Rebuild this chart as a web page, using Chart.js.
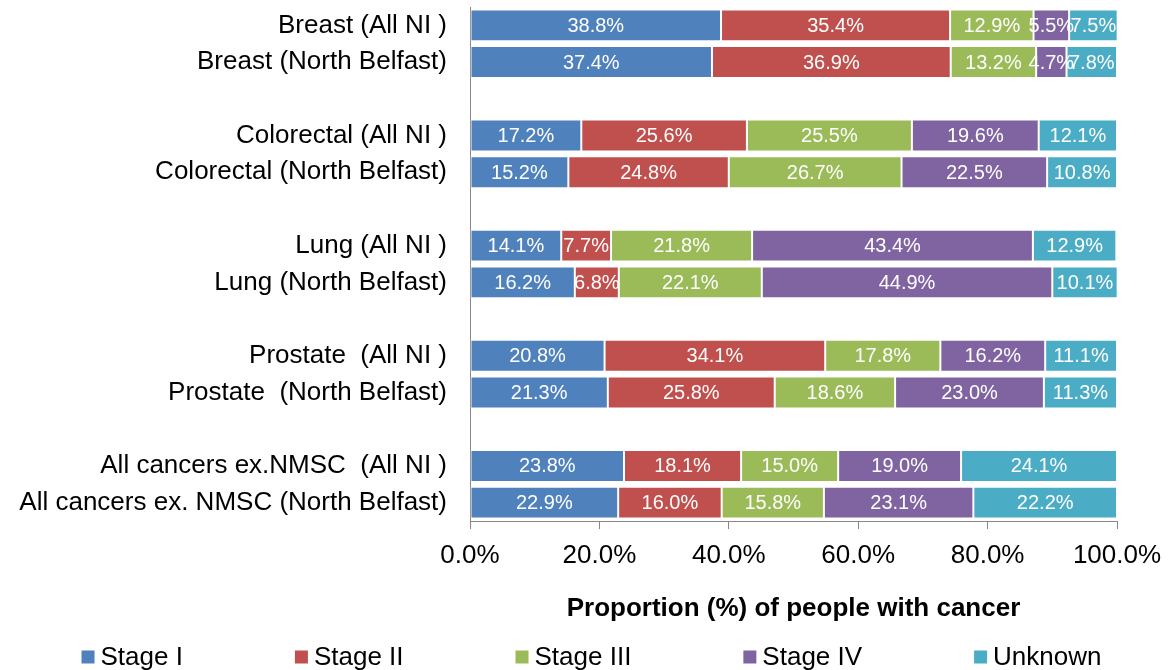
<!DOCTYPE html>
<html><head><meta charset="utf-8">
<script src="https://cdn.jsdelivr.net/npm/chart.js@4.4.0/dist/chart.umd.min.js"></script>
<style>html,body{margin:0;padding:0;background:#fff}#wrap{width:1169px;height:670px;position:relative}</style>
</head><body><div id="wrap"><canvas id="c"></canvas></div>
<script>
const categories = ['Breast (All NI )','Breast (North Belfast)','','Colorectal (All NI )','Colorectal (North Belfast)','','Lung (All NI )','Lung (North Belfast)','','Prostate  (All NI )','Prostate  (North Belfast)','','All cancers ex.NMSC  (All NI )','All cancers ex. NMSC (North Belfast)'];
const stageI   = [38.8,37.4,null,17.2,15.2,null,14.1,16.2,null,20.8,21.3,null,23.8,22.9];
const stageII  = [35.4,36.9,null,25.6,24.8,null,7.7,6.8,null,34.1,25.8,null,18.1,16.0];
const stageIII = [12.9,13.2,null,25.5,26.7,null,21.8,22.1,null,17.8,18.6,null,15.0,15.8];
const stageIV  = [5.5,4.7,null,19.6,22.5,null,43.4,44.9,null,16.2,23.0,null,19.0,23.1];
const unknown  = [7.5,7.8,null,12.1,10.8,null,12.9,10.1,null,11.1,11.3,null,24.1,22.2];
const seriesNames = ['Stage I','Stage II','Stage III','Stage IV','Unknown'];
const seriesColors = ['#4F81BD','#C0504D','#9BBB59','#8064A2','#4BACC6'];
const xTicks = [0,20,40,60,80,100];
const xTitle = 'Proportion (%) of people with cancer';

const FONT = '"Liberation Sans", Arial, sans-serif';
const seriesData = [stageI, stageII, stageIII, stageIV, unknown];

const dataLabels = {
  id: 'dataLabels',
  afterDatasetsDraw(chart) {
    const ctx = chart.ctx;
    ctx.save();
    ctx.font = '20px ' + FONT;
    ctx.fillStyle = '#fff';
    ctx.textAlign = 'center';
    ctx.textBaseline = 'middle';
    chart.data.datasets.forEach((ds, i) => {
      const meta = chart.getDatasetMeta(i);
      meta.data.forEach((el, j) => {
        const v = ds.data[j];
        if (v == null) return;
        const p = el.getProps(['x','y','base'], true);
        ctx.fillText(v.toFixed(1) + '%', (p.x + p.base) / 2, p.y + 1);
      });
    });
    ctx.restore();
  }
};

const customLegend = {
  id: 'customLegend',
  afterDraw(chart) {
    const ctx = chart.ctx;
    ctx.save();
    ctx.font = '26px ' + FONT;
    ctx.textBaseline = 'middle';
    ctx.textAlign = 'left';
    const box = 13, gapText = 6, gap = 112;
    const items = chart.data.datasets.map(d => ({t: d.label, c: d.backgroundColor, w: box + gapText + ctx.measureText(d.label).width}));
    const total = items.reduce((a, b) => a + b.w, 0) + gap * (items.length - 1);
    let x = chart.width / 2 + 7 - total / 2;
    const y = 657;
    items.forEach(it => {
      ctx.fillStyle = it.c;
      ctx.fillRect(x, y - 6.5, box, box);
      ctx.fillStyle = '#000';
      ctx.fillText(it.t, x + box + gapText, y + 1);
      x += it.w + gap;
    });
    ctx.restore();
  }
};

new Chart(document.getElementById('c'), {
  type: 'bar',
  data: {
    labels: categories,
    datasets: seriesNames.map((n, i) => ({
      label: n,
      data: seriesData[i],
      backgroundColor: seriesColors[i],
      borderColor: 'rgba(255,255,255,0.55)',
      borderWidth: 1,
      borderSkipped: false,
      barPercentage: 0.87,
      categoryPercentage: 1.0
    }))
  },
  options: {
    indexAxis: 'y',
    responsive: true,
    maintainAspectRatio: false,
    animation: false,
    layout: {padding: {left: 10, right: 52, top: 7, bottom: 45}},
    plugins: {legend: {display: false}, tooltip: {enabled: false}},
    scales: {
      x: {
        stacked: true,
        min: 0, max: 100,
        afterBuildTicks: s => { s.ticks = xTicks.map(v => ({value: v})); },
        afterFit: s => { s.height = 104; s.paddingLeft = 0; s.paddingRight = 0; },
        grid: {display: true, drawOnChartArea: false, drawTicks: true, tickLength: 8, color: '#888'},
        border: {display: true, color: '#888', width: 1},
        ticks: {padding: 11, color: '#000', font: {family: FONT, size: 26}, maxRotation: 0, callback: v => Number(v).toFixed(1) + '%'},
        title: {display: true, text: xTitle, color: '#000', font: {family: FONT, size: 26, weight: 'bold'}, padding: {top: 0, bottom: 1}}
      },
      y: {
        stacked: true,
        afterFit: s => { s.width = 460; s.paddingTop = 0; s.paddingBottom = 0; },
        grid: {display: false, drawTicks: false},
        border: {display: true, color: '#888', width: 1},
        ticks: {padding: 23, color: '#000', font: {family: FONT, size: 26}, autoSkip: false}
      }
    }
  },
  plugins: [dataLabels, customLegend]
});
</script>
</body></html>
